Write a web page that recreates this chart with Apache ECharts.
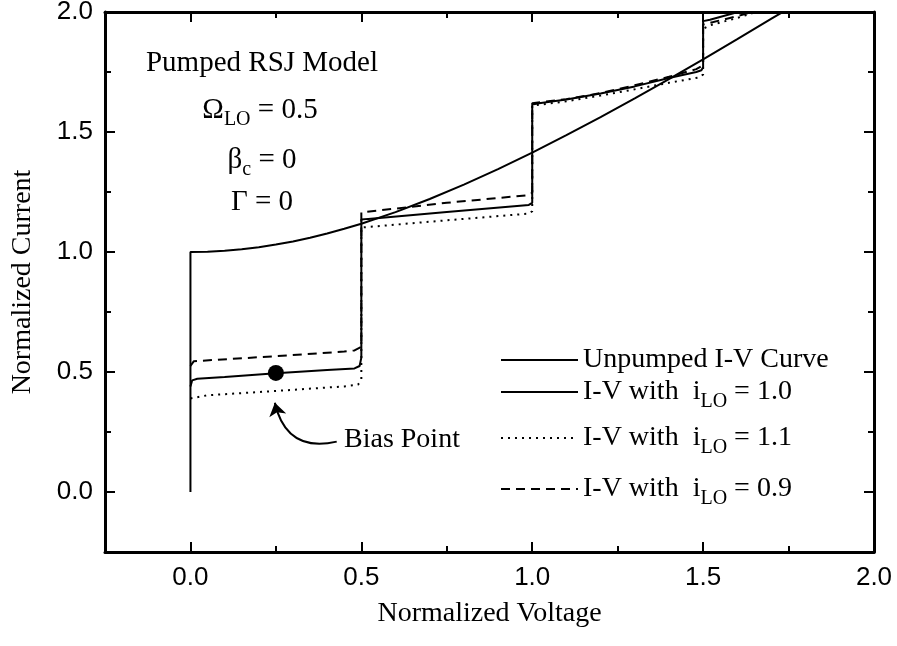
<!DOCTYPE html>
<html>
<head>
<meta charset="utf-8">
<script src="https://cdn.jsdelivr.net/npm/echarts@6/dist/echarts.min.js"></script>
<style>html,body{margin:0;padding:0;background:#fff}#c{width:897px;height:646px}</style>
</head>
<body>
<div id="c"></div>
<script>
// ---- tick values ----
const xTicks = [0, 0.5, 1.0, 1.5, 2.0];
const xMinorTicks = [0.25, 0.75, 1.25, 1.75];
const yTicks = [0, 0.5, 1.0, 1.5, 2.0];
const yMinorTicks = [0.25, 0.75, 1.25, 1.75];

// ---- series names ----
const seriesNames = ['Unpumped I-V Curve', 'I-V iLO=1.0', 'I-V iLO=1.1', 'I-V iLO=0.9'];
const legendLabels = ['Unpumped I-V Curve', 'I-V with  i{s|LO} = 1.0', 'I-V with  i{s|LO} = 1.1', 'I-V with  i{s|LO} = 0.9'];

// ---- data: [normalized voltage, normalized current] ----
const unpumped = [[0,0],[0,1.0],[0.05,1.001],[0.1,1.005],[0.15,1.011],[0.2,1.02],[0.25,1.031],[0.3,1.044],[0.35,1.059],[0.4,1.077],[0.45,1.097],[0.5,1.118],[0.6,1.166],[0.7,1.221],[0.8,1.281],[0.9,1.345],[1.0,1.414],[1.1,1.487],[1.2,1.562],[1.3,1.64],[1.4,1.72],[1.5,1.803],[1.6,1.887],[1.7,1.972],[1.74,2.006]];
const pumped10 = [[0,0.44],[0.005,0.465],[0.02,0.472],[0.1,0.479],[0.25,0.495],[0.4,0.508],[0.48,0.515],[0.495,0.525],[0.5,0.56],[0.5,1.135],[0.52,1.138],[0.75,1.167],[0.99,1.196],[1.0,1.205],[1.0,1.615],[1.02,1.62],[1.1,1.635],[1.2,1.66],[1.3,1.69],[1.4,1.725],[1.48,1.75],[1.495,1.757],[1.5,1.77],[1.5,1.962],[1.52,1.968],[1.61,2.003]];
const pumped11 = [[0,0.39],[0.005,0.398],[0.05,0.403],[0.25,0.421],[0.45,0.44],[0.49,0.447],[0.5,0.465],[0.5,1.102],[0.75,1.132],[0.99,1.16],[1.0,1.17],[1.0,1.61],[1.1,1.628],[1.2,1.652],[1.3,1.678],[1.4,1.705],[1.49,1.728],[1.5,1.74],[1.5,1.93],[1.52,1.945],[1.6,1.975],[1.66,2.003]];
const pumped09 = [[0,0.525],[0.01,0.545],[0.25,0.566],[0.45,0.585],[0.48,0.59],[0.5,0.605],[0.5,1.165],[0.75,1.205],[0.99,1.237],[1.0,1.247],[1.0,1.62],[1.1,1.637],[1.2,1.662],[1.3,1.695],[1.4,1.73],[1.48,1.762],[1.5,1.778],[1.5,1.948],[1.53,1.958],[1.62,1.99],[1.65,2.003]];

// ---- bias point and its arrow ----
const biasPoint = [[0.25, 0.496]];
const biasArrow = [[0.428, 0.21], [0.247, 0.372]];

const SERIF = '"Liberation Serif", "Times New Roman", serif';
const SANS = '"Liberation Sans", Arial, sans-serif';

const subRich = { s: { fontSize: 20, fontFamily: SERIF, color: '#000', lineHeight: 20, padding: [20, 0, 0, 0] } };

function axisBase(extra) {
  return Object.assign({
    type: 'value',
    splitLine: { show: false },
    axisLine: { show: false, onZero: false, lineStyle: { color: '#000', width: 3 } },
    axisLabel: { show: false },
    gridIndex: 0
  }, extra);
}

const xAxes = [
  axisBase({
    min: -0.25, max: 2.0, position: 'bottom',
    axisLine: { show: true, onZero: false, lineStyle: { color: '#000', width: 3 } },
    axisTick: { show: true, inside: true, length: 10, lineStyle: { color: '#000', width: 2 }, customValues: xTicks },
    axisLabel: { show: true, customValues: xTicks, formatter: v => v.toFixed(1), fontFamily: SANS, fontSize: 26, color: '#000', margin: 13 },
    name: 'Normalized Voltage', nameLocation: 'middle', nameGap: 48,
    nameTextStyle: { fontFamily: SERIF, fontSize: 28, color: '#000' }
  }),
  axisBase({ min: -0.25, max: 2.0, position: 'bottom',
    axisTick: { show: true, inside: true, length: 6, lineStyle: { color: '#000', width: 2 }, customValues: xMinorTicks } }),
  axisBase({ min: -0.25, max: 2.0, position: 'top',
    axisLine: { show: true, onZero: false, lineStyle: { color: '#000', width: 3 } },
    axisTick: { show: true, inside: true, length: 10, lineStyle: { color: '#000', width: 2 }, customValues: xTicks } }),
  axisBase({ min: -0.25, max: 2.0, position: 'top',
    axisTick: { show: true, inside: true, length: 6, lineStyle: { color: '#000', width: 2 }, customValues: xMinorTicks } })
];

const yAxes = [
  axisBase({
    min: -0.25, max: 2.0, position: 'left',
    axisLine: { show: true, onZero: false, lineStyle: { color: '#000', width: 3 } },
    axisTick: { show: true, inside: true, length: 10, lineStyle: { color: '#000', width: 2 }, customValues: yTicks },
    axisLabel: { show: true, customValues: yTicks, formatter: v => v.toFixed(1), fontFamily: SANS, fontSize: 26, color: '#000', margin: 12 },
    name: 'Normalized Current', nameLocation: 'middle', nameGap: 68,
    nameTextStyle: { fontFamily: SERIF, fontSize: 28, color: '#000' }
  }),
  axisBase({ min: -0.25, max: 2.0, position: 'left',
    axisTick: { show: true, inside: true, length: 6, lineStyle: { color: '#000', width: 2 }, customValues: yMinorTicks } }),
  axisBase({ min: -0.25, max: 2.0, position: 'right',
    axisLine: { show: true, onZero: false, lineStyle: { color: '#000', width: 3 } },
    axisTick: { show: true, inside: true, length: 10, lineStyle: { color: '#000', width: 2 }, customValues: yTicks } }),
  axisBase({ min: -0.25, max: 2.0, position: 'right',
    axisTick: { show: true, inside: true, length: 6, lineStyle: { color: '#000', width: 2 }, customValues: yMinorTicks } })
];

function curve(name, data, type, width) {
  return {
    name: name, type: 'line', data: data, xAxisIndex: 0, yAxisIndex: 0,
    showSymbol: false, symbol: 'none', clip: true, animation: false,
    lineStyle: { color: '#000', width: width, type: type, cap: 'butt' },
    itemStyle: { color: '#000' }
  };
}

const legendTops = [346, 372, 418, 469];
const legends = seriesNames.map((n, i) => ({
  data: [n], left: 500, top: legendTops[i], orient: 'vertical',
  itemWidth: 77, itemHeight: 14, padding: 0, selectedMode: false,
  itemStyle: { opacity: 0 },
  lineStyle: { color: '#000', width: 2, opacity: 1 },
  formatter: () => legendLabels[i],
  textStyle: { fontFamily: SERIF, fontSize: 28, color: '#000', rich: subRich }
}));

const chart = echarts.init(document.getElementById('c'), null, { renderer: 'canvas' });
chart.setOption({
  animation: false,
  backgroundColor: '#fff',
  grid: { left: 105, right: 23, top: 12, bottom: 94, containLabel: false, outerBoundsMode: 'none' },
  xAxis: xAxes,
  yAxis: yAxes,
  legend: legends,
  series: [
    curve(seriesNames[0], unpumped, 'solid', 2),
    curve(seriesNames[1], pumped10, 'solid', 2),
    curve(seriesNames[2], pumped11, [2, 5], 2),
    curve(seriesNames[3], pumped09, [9, 6], 2),
    {
      type: 'scatter', data: biasPoint, symbol: 'circle', symbolSize: 16,
      itemStyle: { color: '#000', opacity: 1 }, z: 5, silent: true
    },
    {
      type: 'lines', coordinateSystem: 'cartesian2d', xAxisIndex: 0, yAxisIndex: 0,
      data: [{ coords: biasArrow }],
      symbol: ['none', 'arrow'], symbolSize: [0, 13],
      lineStyle: { color: '#000', width: 2, curveness: 0.5, opacity: 1 },
      silent: true, z: 4
    }
  ],
  graphic: [
    { type: 'text', x: 262, y: 63, style: { text: 'Pumped RSJ Model', fontFamily: SERIF, fontSize: 29, fill: '#000', align: 'center', verticalAlign: 'middle' } },
    { type: 'text', x: 260, y: 110, style: { text: 'Ω{s|LO} = 0.5', fontFamily: SERIF, fontSize: 29, fill: '#000', align: 'center', verticalAlign: 'middle', rich: subRich } },
    { type: 'text', x: 262, y: 160, style: { text: 'β{s|c} = 0', fontFamily: SERIF, fontSize: 29, fill: '#000', align: 'center', verticalAlign: 'middle', rich: subRich } },
    { type: 'text', x: 262, y: 202, style: { text: 'Γ = 0', fontFamily: SERIF, fontSize: 29, fill: '#000', align: 'center', verticalAlign: 'middle' } },
    { type: 'text', x: 344, y: 440, style: { text: 'Bias Point', fontFamily: SERIF, fontSize: 28, fill: '#000', align: 'left', verticalAlign: 'middle' } }
  ]
});
</script>
</body>
</html>
